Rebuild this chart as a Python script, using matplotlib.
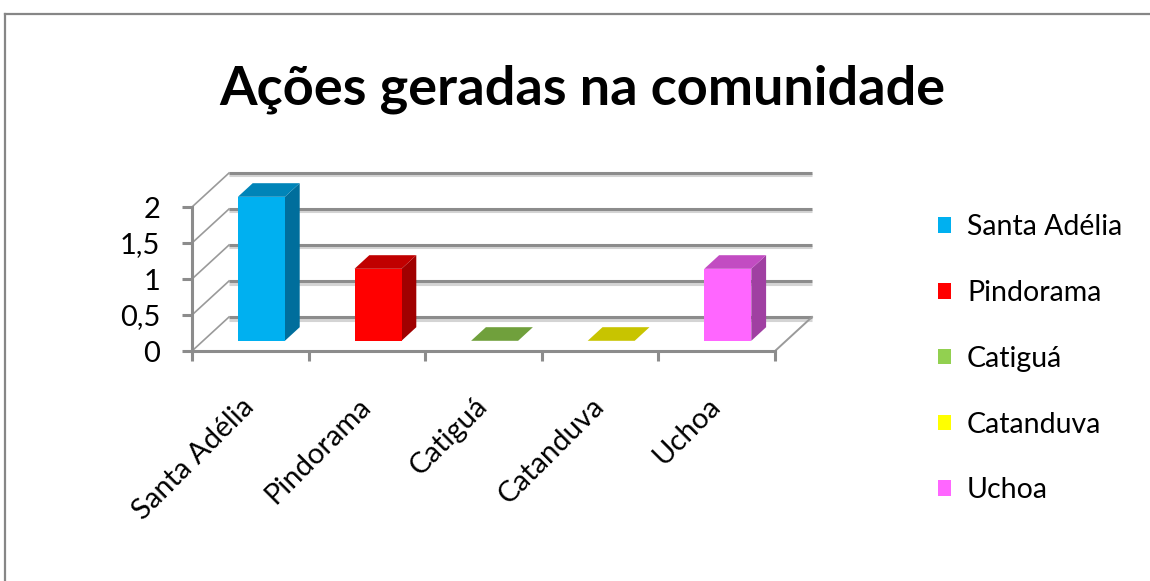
import matplotlib
matplotlib.use("Agg")
import matplotlib.pyplot as plt
from matplotlib.patches import Polygon, Patch
from matplotlib.lines import Line2D
import matplotlib.patheffects as pe
import numpy as np

# ---- data ----
categories = ["Santa Adélia", "Pindorama", "Catiguá", "Catanduva", "Uchoa"]
values = [2, 1, 0, 0, 1]
y_ticks = [0, 0.5, 1, 1.5, 2]
y_tick_labels = ["0", "0,5", "1", "1,5", "2"]
title = "Ações geradas na comunidade"

# ---- styles ----
front_colors = ["#00B0F0", "#FF0000", "#92D050", "#FFFF00", "#FF66FF"]
top_colors = ["#0084B8", "#C00000", "#70A03C", "#C8C400", "#C24CC2"]
side_colors = ["#006E9C", "#A00000", "#5A8530", "#A8A400", "#A040A2"]
legend_colors = front_colors
grid_color = "#8C8C8C"
font = "Lato"

W, H = 1150, 581
fig = plt.figure(figsize=(W / 100, H / 100), dpi=100)
fig.patch.set_facecolor("white")

ax = fig.add_axes([192 / W, (H - 351) / H, (775 - 192) / W, 144 / H])
ax.set_xlim(-0.5, len(categories) - 0.5)
ax.set_ylim(0, 2)
ax.set_facecolor("none")

# depth of the 3-D box in data units
px_x = (775 - 192) / len(categories)
px_y = 144 / 2
DX = 37 / px_x
DY = 34 / px_y
f0, f1 = 0.30, 0.70
bar_w = 47 / px_x

shadow = [pe.SimpleLineShadow(offset=(0, -1.8), shadow_color="#D4D4D4", alpha=1.0), pe.Normal()]

x_left, x_right = -0.5, len(categories) - 0.5
for v in y_ticks:
    ax.plot([x_left + DX, x_right + DX], [v + DY, v + DY], color=grid_color, lw=2.2,
            clip_on=False, zorder=1, path_effects=shadow, solid_capstyle="butt")
    ax.plot([x_left, x_left + DX], [v, v + DY], color="#9A9A9A", lw=1.2, clip_on=False, zorder=1)
ax.plot([x_right, x_right + DX], [0, DY], color="#9A9A9A", lw=1.4, clip_on=False, zorder=1)

# 3-D bars
b0 = f0 * DY
ddx = (f1 - f0) * DX
ddy = (f1 - f0) * DY
for i, v in enumerate(values):
    xc = i + f0 * DX
    xl, xr = xc - bar_w / 2, xc + bar_w / 2
    if v > 0:
        side = Polygon([(xr, b0), (xr + ddx, b0 + ddy), (xr + ddx, b0 + ddy + v), (xr, b0 + v)],
                       closed=True, facecolor=side_colors[i], edgecolor="none", zorder=3, clip_on=False)
        ax.add_patch(side)
    top = Polygon([(xl, b0 + v), (xr, b0 + v), (xr + ddx, b0 + v + ddy), (xl + ddx, b0 + v + ddy)],
                  closed=True, facecolor=top_colors[i], edgecolor="none", zorder=3, clip_on=False)
    ax.add_patch(top)
    if v > 0:
        ax.bar(xc, v, width=bar_w, bottom=b0, color=front_colors[i], zorder=4, clip_on=False)

# spines and ticks
for s in ["top", "right"]:
    ax.spines[s].set_visible(False)
for s in ["left", "bottom"]:
    ax.spines[s].set_color(grid_color)
    ax.spines[s].set_linewidth(2.2)
    ax.spines[s].set_zorder(5)

ax.set_yticks(y_ticks)
ax.set_yticklabels(y_tick_labels, fontsize=21, family=font)
ax.tick_params(axis="y", direction="out", length=7, width=2.2, color=grid_color, pad=16)

ax.set_xticks(np.arange(len(categories) + 1) - 0.5)
ax.set_xticklabels([])
ax.set_xticks(np.arange(len(categories)), minor=True)
ax.set_xticklabels(categories, minor=True, rotation=45, ha="right", va="center",
                   rotation_mode="anchor", fontsize=21, family=font)
ax.tick_params(axis="x", which="major", direction="out", length=7, width=2.2, color=grid_color)
ax.tick_params(axis="x", which="minor", length=0, pad=37)

# title
fig.text((222 + 943) / 2 / W, (H - 104) / H, title, ha="center", va="baseline",
         fontsize=39, fontweight="bold", family=font)

# legend
handles = [Patch(facecolor=c, edgecolor="none") for c in legend_colors]
fig.legend(handles, categories, loc="upper left", bbox_to_anchor=(938 / W, (H - 214) / H),
           frameon=False, prop={"family": font, "size": 20.5}, handlelength=0.47,
           handleheight=0.47, handletextpad=0.55, labelspacing=1.40, borderpad=0,
           borderaxespad=0)

# outer chart border
bx, by = 5 / W, 1 - 14 / H
fig.add_artist(Line2D([bx, 1.01], [by, by], transform=fig.transFigure, color="#868686", lw=1.6))
fig.add_artist(Line2D([bx, bx], [-0.01, by], transform=fig.transFigure, color="#868686", lw=1.6))

fig.savefig("out.png", dpi=100, facecolor="white")
